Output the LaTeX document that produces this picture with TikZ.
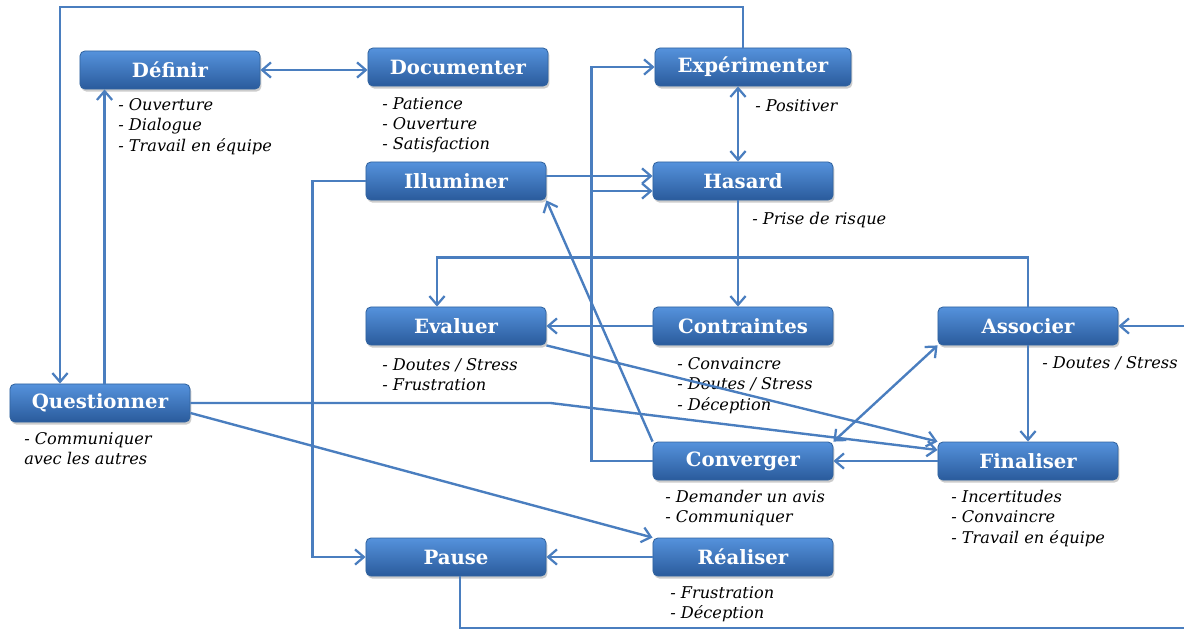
\documentclass[tikz,border=0pt]{standalone}
\usepackage{fontspec}
\setmainfont{DejaVu Serif}
\usetikzlibrary{arrows.meta,shadows,calc}
\definecolor{boxhaut}{HTML}{5592DC}
\definecolor{boxmil}{HTML}{3B76C4}
\definecolor{boxbas}{HTML}{2A5B9C}
\definecolor{boxbord}{HTML}{32649F}
\definecolor{lien}{HTML}{4A7EBF}
\tikzset{
  etape/.style={draw=boxbord, line width=0.6pt, rounded corners=3.5pt,
    top color=boxhaut, middle color=boxmil, bottom color=boxbas, text=white,
    font=\bfseries\fontsize{14}{16}\selectfont,
    minimum width=4.5cm, minimum height=0.95cm, inner sep=0pt,
    drop shadow={opacity=0.4, shadow xshift=1pt, shadow yshift=-1.8pt}},
  note/.style={anchor=north west, align=left, inner sep=0pt,
    font=\itshape\fontsize{11.5}{14.5}\selectfont},
  fleche/.style={draw=lien, line width=1.7pt,
    -{Straight Barb[length=0.22cm, width=0.38cm, line width=1.6pt]}},
  fleche2/.style={fleche,
    {Straight Barb[length=0.22cm, width=0.38cm, line width=1.6pt]}-{Straight Barb[length=0.22cm, width=0.38cm, line width=1.6pt]}}
}
\begin{document}
\begin{tikzpicture}[x=0.025cm, y=-0.025cm]
\useasboundingbox (0,0) rectangle (1184,631);
% 方框
\node[etape] (definir) at (170,70) {Définir};
\node[etape] (documenter) at (458,67) {Documenter};
\node[etape, minimum width=4.9cm] (experimenter) at (753,67) {Expérimenter};
\node[etape] (illuminer) at (456,181) {Illuminer};
\node[etape] (hasard) at (743,181) {Hasard};
\node[etape] (evaluer) at (456,326) {Evaluer};
\node[etape] (contraintes) at (743,326) {Contraintes};
\node[etape] (associer) at (1028,326) {Associer};
\node[etape] (questionner) at (100,403) {Questionner};
\node[etape] (converger) at (743,461) {Converger};
\node[etape] (finaliser) at (1028,461) {Finaliser};
\node[etape] (pause) at (456,557) {Pause};
\node[etape] (realiser) at (743,557) {Réaliser};
% 注释
\node[note] (n-definir) at (118,98) {- Ouverture\\- Dialogue\\- Travail en équipe};
\node[note] (n-documenter) at (382,97) {- Patience\\- Ouverture\\- Satisfaction};
\node[note] (n-experimenter) at (755,99) {- Positiver};
\node[note] (n-hasard) at (752,212) {- Prise de risque};
\node[note] (n-evaluer) at (382,358) {- Doutes / Stress\\- Frustration};
\node[note] (n-contraintes) at (677,357) {- Convaincre\\- Doutes / Stress\\- Déception};
\node[note] (n-associer) at (1042,356) {- Doutes / Stress};
\node[note] (n-questionner) at (24,432) {- Communiquer\\avec les autres};
\node[note] (n-converger) at (665,490) {- Demander un avis\\- Communiquer};
\node[note] (n-finaliser) at (951,490) {- Incertitudes\\- Convaincre\\- Travail en équipe};
\node[note] (n-realiser) at (670,586) {- Frustration\\- Déception};
% 拐点
\coordinate (haut) at (60,7);
\coordinate (c1) at ($(converger.west)+(-61,0)$);
\coordinate (h3) at ($(hasard.west)+(0,10)$);
\coordinate (h1) at ($(hasard.north)+(-5,0)$);
\coordinate (h2) at ($(hasard.south)+(-5,0)$);
\coordinate (e1) at ($(evaluer.north)+(-19,0)$);
\coordinate (droite) at (1200,628);
% 连线
\draw[fleche2] (definir.east) -- (definir.east -| documenter.west);
\draw[fleche] ($(questionner.north west)+(95,0)$) -- ($(definir.south west)+(25,0)$);
\draw[fleche] ($(experimenter.north)+(-10,0)$) |- (haut) -- (haut |- questionner.north);
\draw[fleche2] (h1) -- (h1 |- experimenter.south);
\draw[fleche] (h2) -- (h2 |- contraintes.north);
\draw[fleche] ($(illuminer.east)+(0,-5)$) coordinate (i1) -- (i1 -| hasard.west);
\draw[fleche] (converger.west) -- (c1) |- (experimenter.west);
\draw[fleche] (c1 |- h3) -- (h3);
\draw[fleche] (illuminer.west) -- ++(-53,0) |- (pause.west);
\draw[fleche] (converger.north west) -- (illuminer.south east);
\draw[fleche] (associer.north) -- ++(0,-49) -| (e1);
\draw[fleche] (contraintes) -- (evaluer);
\draw[fleche] (evaluer.south east) -- (finaliser.north west);
\draw[fleche] (questionner.east) -- ++(360,0) -- ($(finaliser.west)+(0,-11)$);
\draw[fleche] ($(questionner.east)+(0,10)$) -- (realiser.north west);
\draw[fleche2] (associer.south west) -- (converger.north east);
\draw[fleche] (associer) -- (finaliser);
\draw[fleche] (finaliser) -- (converger);
\draw[fleche] (realiser) -- (pause);
\draw[fleche] ($(pause.south)+(4,0)$) |- (droite) |- (associer.east);
\end{tikzpicture}
\end{document}
